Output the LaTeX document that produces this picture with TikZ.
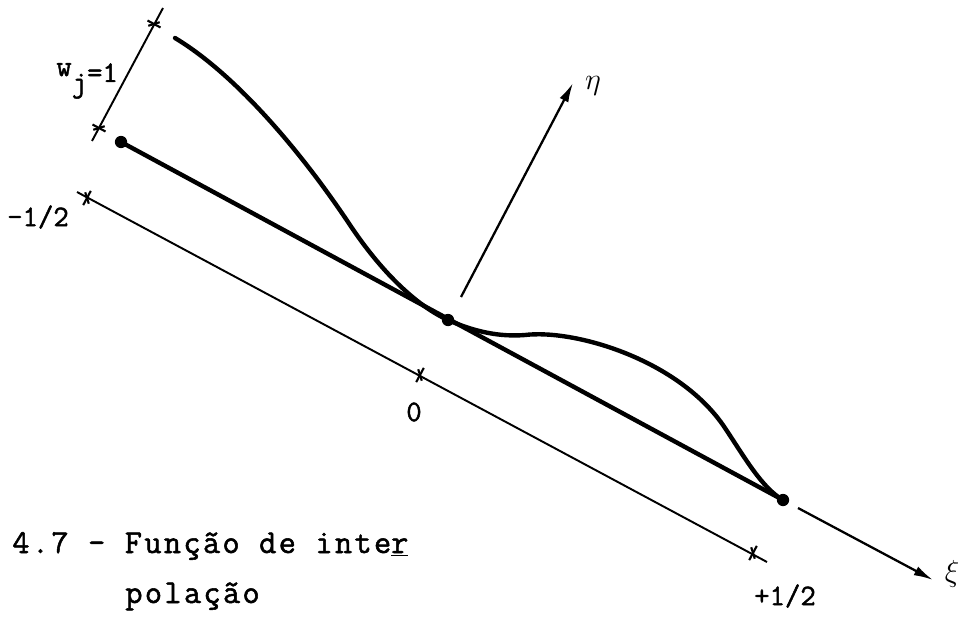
\documentclass[tikz,border=0pt]{standalone}
\usepackage{fontspec}
\newfontfamily\capfont{Latin Modern Mono}[LetterSpace=7, FakeBold=1.6]
\newfontfamily\lblfont{Latin Modern Mono}[FakeBold=1.6]
\usetikzlibrary{arrows.meta}
\begin{document}
\begin{tikzpicture}[x=0.02cm,y=-0.02cm,
  axisline/.style={line width=1.1pt},
  thickline/.style={line width=2.5pt},
  curveline/.style={line width=2.5pt, line join=round, line cap=round},
  arrowline/.style={line width=1.3pt, -{Latex[length=11pt,width=5.5pt]}},
  ticks/.style={line width=1.2pt},
  dot/.style={circle, fill=black, inner sep=0pt, minimum size=7pt},
  lbl/.style={font=\lblfont\fontsize{17}{19}\selectfont, inner sep=0pt},
  greek/.style={font=\fontsize{18}{20}\selectfont, inner sep=0pt},
  captext/.style={font=\capfont\fontsize{19}{22}\selectfont, inner sep=0pt, anchor=base west}
]
\useasboundingbox (0,0) rectangle (962,628);

% dots on the thick line
\node[dot] (dA) at (121,142) {};
\node[dot] (dM) at (448,320) {};
\node[dot] (dB) at (783,500) {};
\draw[thickline] (dA.center) -- (dB.center);

% interpolation curve
\coordinate (c0) at (175,38);
\coordinate (ci) at (350,225);
\coordinate (cf) at (525,335);
\coordinate (cg) at (725,428);
\draw[curveline] (c0) .. controls (235,74) and (300,150) .. (ci)
  .. controls (380,270) and (415,305) .. (dM.center)
  .. controls (475,332) and (500,337) .. (cf)
  .. controls (575,329) and (680,360) .. (cg)
  .. controls (745,458) and (762,488) .. (dB.center);

% xi axis continuation
\coordinate (xs) at (798,508);
\coordinate (xe) at (933,580);
\draw[arrowline] (xs) -- (xe);
\node[greek] (xi) at (952,574) {$\xi$};

% eta axis
\coordinate (es) at (461,297);
\coordinate (ee) at (573,83);
\draw[arrowline] (es) -- (ee);
\node[greek] (eta) at (593,86) {$\eta$};

% thin axis with ticks
\coordinate (a0) at (77,192);
\coordinate (tm) at (87,198);
\coordinate (tz) at (420,375);
\coordinate (tp) at (753,553);
\coordinate (a1) at (767,562);
\draw[axisline] (a0) -- (a1);
\foreach \t in {tm,tz,tp}{
  \draw[ticks] ([shift={(-3.8,7.1)}]\t) -- ([shift={(3.8,-7.1)}]\t);
  \draw[ticks] ([shift={(-1.8,-5.7)}]\t) -- ([shift={(1.8,5.7)}]\t);
}
\node[lbl] (lm) at (38,217) {-1/2};
\node[lbl] (lz) at (414,412) {0};
\node[lbl] (lp) at (785,596) {+1/2};

% w_j scale
\coordinate (w0) at (92,141);
\coordinate (w1) at (163,8);
\coordinate (wa) at (99,128);
\coordinate (wb) at (154,24);
\draw[axisline] (w0) -- (w1);
\foreach \t in {wa,wb}{
  \draw[ticks] ([shift={(-6.5,-3.5)}]\t) -- ([shift={(6.5,3.5)}]\t);
  \draw[ticks] ([shift={(-5.7,1.8)}]\t) -- ([shift={(5.7,-1.8)}]\t);
}
\node[lbl, anchor=base west] (wl) at (56,76) {w\raisebox{-9pt}{j}\raisebox{-3.4pt}{=1}};

% caption
\node[captext] (c1) at (12,553) {4.7 - Função de inte\underline{r}};
\node[captext] (c2) at (125,603) {polação};
\end{tikzpicture}
\end{document}
